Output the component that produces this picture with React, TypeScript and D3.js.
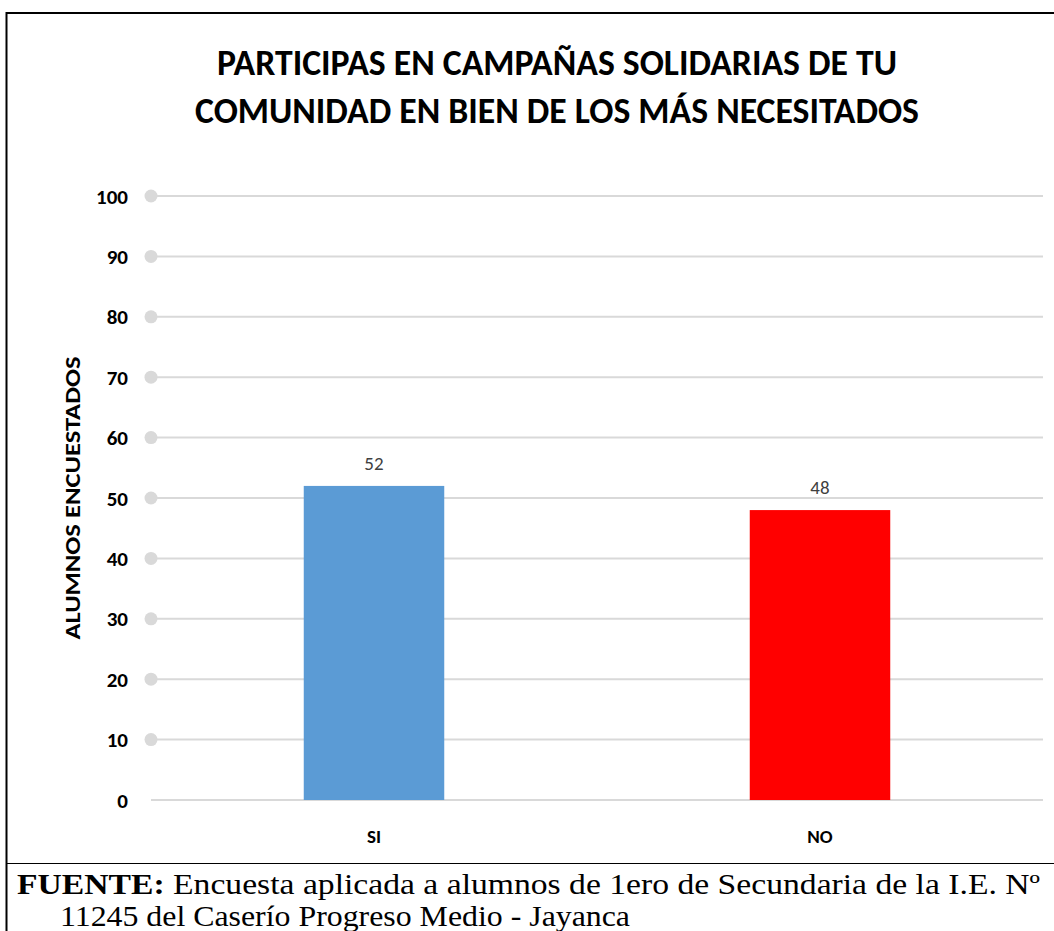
import React from "react";
import * as d3 from "d3";

const categories = ["SI", "NO"];
const values = [52, 48];
const barColors = ["#5B9BD5", "#FF0000"];
const yTicks = [0, 10, 20, 30, 40, 50, 60, 70, 80, 90, 100];
const titleLines = [
  "PARTICIPAS EN CAMPAÑAS SOLIDARIAS DE TU",
  "COMUNIDAD EN BIEN DE LOS MÁS NECESITADOS",
];
const yAxisTitle = "ALUMNOS ENCUESTADOS";
const footerBold = "FUENTE:";
const footerLine1 = " Encuesta aplicada a alumnos de 1ero de Secundaria de la I.E. Nº";
const footerLine2 = "11245 del Caserío Progreso Medio - Jayanca";

const W = 1054;
const H = 931;
const plotLeft = 151;
const plotRight = 1043;
const plotTop = 196;
const plotBottom = 800;

export default function App() {
  const x = d3
    .scaleBand<string>()
    .domain(categories)
    .range([plotLeft, plotRight])
    .paddingInner(0.685)
    .paddingOuter(0.3425);
  const y = d3.scaleLinear().domain([0, 100]).range([plotBottom, plotTop]);
  const sans = "Carlito, Lato, 'Open Sans', sans-serif";
  const serif = "'Liberation Serif', 'DejaVu Serif', serif";

  return (
    <svg
      width={W}
      height={H}
      style={{ position: "absolute", left: 0, top: 0, background: "#fff" }}
    >
      {/* frame */}
      <line x1={6.5} y1={13} x2={W} y2={13} stroke="#000" strokeWidth={2} />
      <line x1={6.5} y1={12} x2={6.5} y2={H} stroke="#000" strokeWidth={2} />
      <line x1={6} y1={863.5} x2={W} y2={863.5} stroke="#000" strokeWidth={1} />

      {/* title */}
      {titleLines.map((t, i) => (
        <text
          key={i}
          x={557}
          y={75 + i * 48}
          textAnchor="middle"
          fontFamily={sans}
          fontWeight="bold"
          fontSize={36}
          fill="#000"
          textLength={i === 0 ? 680 : 724}
          lengthAdjust="spacingAndGlyphs"
        >
          {t}
        </text>
      ))}

      {/* gridlines */}
      {yTicks.map((t) => (
        <g key={t}>
          <line
            x1={plotLeft}
            x2={plotRight}
            y1={y(t)}
            y2={y(t)}
            stroke="#D9D9D9"
            strokeWidth={2}
          />
          {t > 0 && <circle cx={plotLeft} cy={y(t)} r={6.5} fill="#D9D9D9" />}
          <text
            x={128}
            y={y(t)}
            dy="0.36em"
            textAnchor="end"
            fontFamily={sans}
            fontWeight="bold"
            fontSize={21}
            fill="#000"
          >
            {t}
          </text>
        </g>
      ))}

      {/* y axis title */}
      <text
        transform={`translate(80, ${(plotTop + plotBottom) / 2}) rotate(-90)`}
        textAnchor="middle"
        fontFamily={sans}
        fontWeight="bold"
        fontSize={22}
        fill="#000"
        textLength={283}
        lengthAdjust="spacingAndGlyphs"
      >
        {yAxisTitle}
      </text>

      {/* bars */}
      {categories.map((c, i) => (
        <g key={c}>
          <rect
            x={x(c)}
            y={y(values[i])}
            width={x.bandwidth()}
            height={plotBottom - y(values[i])}
            fill={barColors[i]}
          />
          <text
            x={(x(c) as number) + x.bandwidth() / 2}
            y={y(values[i]) - 16}
            textAnchor="middle"
            fontFamily={sans}
            fontSize={19}
            fill="#404040"
          >
            {values[i]}
          </text>
          <text
            x={(x(c) as number) + x.bandwidth() / 2}
            y={843}
            textAnchor="middle"
            fontFamily={sans}
            fontWeight="bold"
            fontSize={19}
            fill="#000"
          >
            {c}
          </text>
        </g>
      ))}

      {/* footer */}
      <text
        x={17}
        y={894}
        fontFamily={serif}
        fontSize={29}
        fill="#000"
        textLength={1023}
        lengthAdjust="spacingAndGlyphs"
      >
        <tspan fontWeight="bold">{footerBold}</tspan>
        <tspan>{footerLine1}</tspan>
      </text>
      <text
        x={60}
        y={926}
        fontFamily={serif}
        fontSize={29}
        fill="#000"
        textLength={570}
        lengthAdjust="spacingAndGlyphs"
      >
        {footerLine2}
      </text>
    </svg>
  );
}
